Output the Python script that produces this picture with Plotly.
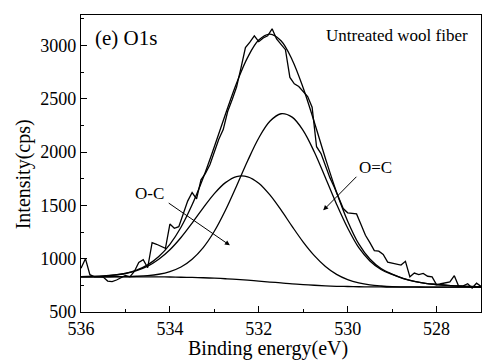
import numpy as np
import plotly.graph_objects as go

# Measured O1s spectrum (binding energy in eV, intensity in cps), 0.1 eV steps
raw_be = np.round(np.arange(536.0, 526.95, -0.1), 1)
raw_counts = [
    910, 1000, 850, 830, 832, 828, 790, 785, 800, 825, 842,
    830, 880, 965, 990, 915, 1150, 1135, 1115, 1097, 1325,
    1285, 1300, 1420, 1540, 1620, 1560, 1740, 1800, 1880, 1990,
    2120, 2210, 2380, 2490, 2610, 2790, 2980, 3030, 3090, 3035,
    3070, 3090, 3155, 3060, 3010, 2960, 2700, 2640, 2615, 2570,
    2520, 2420, 2050, 1985, 1870, 1760, 1670, 1560, 1470, 1430,
    1425, 1420, 1320, 1220, 1150, 1075, 1070, 1040, 968, 960,
    955, 940, 975, 830, 865, 850, 862, 835, 830, 755,
    765, 775, 782, 840, 738, 745, 765, 725, 770, 740,
]

# Peak-fit curves sampled every 0.25 eV (each component drawn on top of the background)
fit_be = np.round(np.arange(536.0, 526.99, -0.25), 2)
background = [
    830, 830, 830, 830, 830, 830, 829, 829, 828, 826, 824, 821, 817,
    812, 806, 798, 790, 781, 773, 764, 757, 751, 745, 741, 739,
    737, 736, 735, 734, 734, 734, 734, 734, 734, 734, 734, 734,
]
peak_oc_single = [
    831, 833, 837, 846, 861, 888, 930, 995, 1084, 1199, 1334, 1476, 1610,
    1713, 1770, 1768, 1708, 1598, 1457, 1303, 1156, 1029, 927, 853, 804,
    773, 754, 744, 738, 736, 735, 734, 734, 734, 734, 734, 734,
]
peak_oc_double = [
    830, 830, 830, 831, 832, 835, 841, 854, 879, 922, 995, 1104, 1257,
    1454, 1682, 1918, 2132, 2288, 2359, 2327, 2201, 2000, 1758, 1511, 1287,
    1103, 979, 899, 852, 814, 787, 769, 758, 749, 744, 739, 736,
]
envelope = [
    831, 834, 838, 847, 863, 893, 942, 1020, 1135, 1295, 1505, 1759, 2050,
    2355, 2646, 2888, 3050, 3105, 3043, 2866, 2600, 2279, 1940, 1623, 1352,
    1139, 997, 908, 856, 816, 788, 769, 758, 749, 744, 739, 736,
]

SERIF = "Liberation Serif, Times New Roman, Times, serif"
line_style = dict(color="black", width=1.3)

fig = go.Figure()
fig.add_trace(go.Scatter(x=raw_be, y=raw_counts, mode="lines", line=line_style))
for curve in (background, peak_oc_single, peak_oc_double, envelope):
    fig.add_trace(go.Scatter(x=fit_be, y=curve, mode="lines",
                             line=dict(color="black", width=1.3, shape="spline", smoothing=1.0)))

axis_common = dict(
    ticks="inside", ticklen=6, tickwidth=1, tickcolor="black",
    showline=True, linecolor="black", linewidth=1.2, mirror=True,
    showgrid=False, zeroline=False,
    tickfont=dict(family=SERIF, size=18, color="black"),
)

fig.update_xaxes(range=[536, 527], tick0=528, dtick=2,
                 minor=dict(dtick=1, ticks="inside", ticklen=3, tickcolor="black"),
                 **axis_common)
fig.update_yaxes(range=[500, 3285], tick0=500, dtick=500,
                 minor=dict(dtick=250, ticks="inside", ticklen=3, tickcolor="black"),
                 ticklabelstandoff=0,
                 **axis_common)

annotations = [
    # axis titles
    dict(text="Binding energy(eV)", x=0.4675, y=-0.122, xref="paper", yref="paper",
         xanchor="center", yanchor="middle", showarrow=False,
         font=dict(family=SERIF, size=20, color="black")),
    dict(text="Intensity(cps)", x=-0.145, y=0.4636, xref="paper", yref="paper",
         xanchor="center", yanchor="middle", textangle=-90, showarrow=False,
         font=dict(family=SERIF, size=20, color="black")),
    # panel labels
    dict(text="(e) O1s", x=0.03, y=0.9215, xref="paper", yref="paper",
         xanchor="left", yanchor="middle", showarrow=False,
         font=dict(family=SERIF, size=21, color="black")),
    dict(text="Untreated wool fiber", x=0.791, y=0.9317, xref="paper", yref="paper",
         xanchor="center", yanchor="middle", showarrow=False,
         font=dict(family=SERIF, size=17, color="black")),
    # component labels
    dict(text="O-C", x=534.47, y=1613, xref="x", yref="y", showarrow=False,
         font=dict(family=SERIF, size=17, color="black")),
    dict(text="O=C", x=529.38, y=1857, xref="x", yref="y", showarrow=False,
         font=dict(family=SERIF, size=17, color="black")),
    # arrows pointing at the components
    dict(text="", x=532.65, y=1125, ax=534.06, ay=1531, xref="x", yref="y",
         axref="x", ayref="y", showarrow=True, arrowhead=2, arrowsize=1,
         arrowwidth=1, arrowcolor="black"),
    dict(text="", x=530.55, y=1453, ax=529.77, ay=1782, xref="x", yref="y",
         axref="x", ayref="y", showarrow=True, arrowhead=2, arrowsize=1,
         arrowwidth=1, arrowcolor="black"),
]

fig.update_layout(
    width=483, height=363,
    margin=dict(l=81, r=2, t=15, b=51),
    paper_bgcolor="white", plot_bgcolor="white",
    showlegend=False,
    font=dict(family=SERIF, color="black"),
    annotations=annotations,
)

fig.write_html("out.html")
